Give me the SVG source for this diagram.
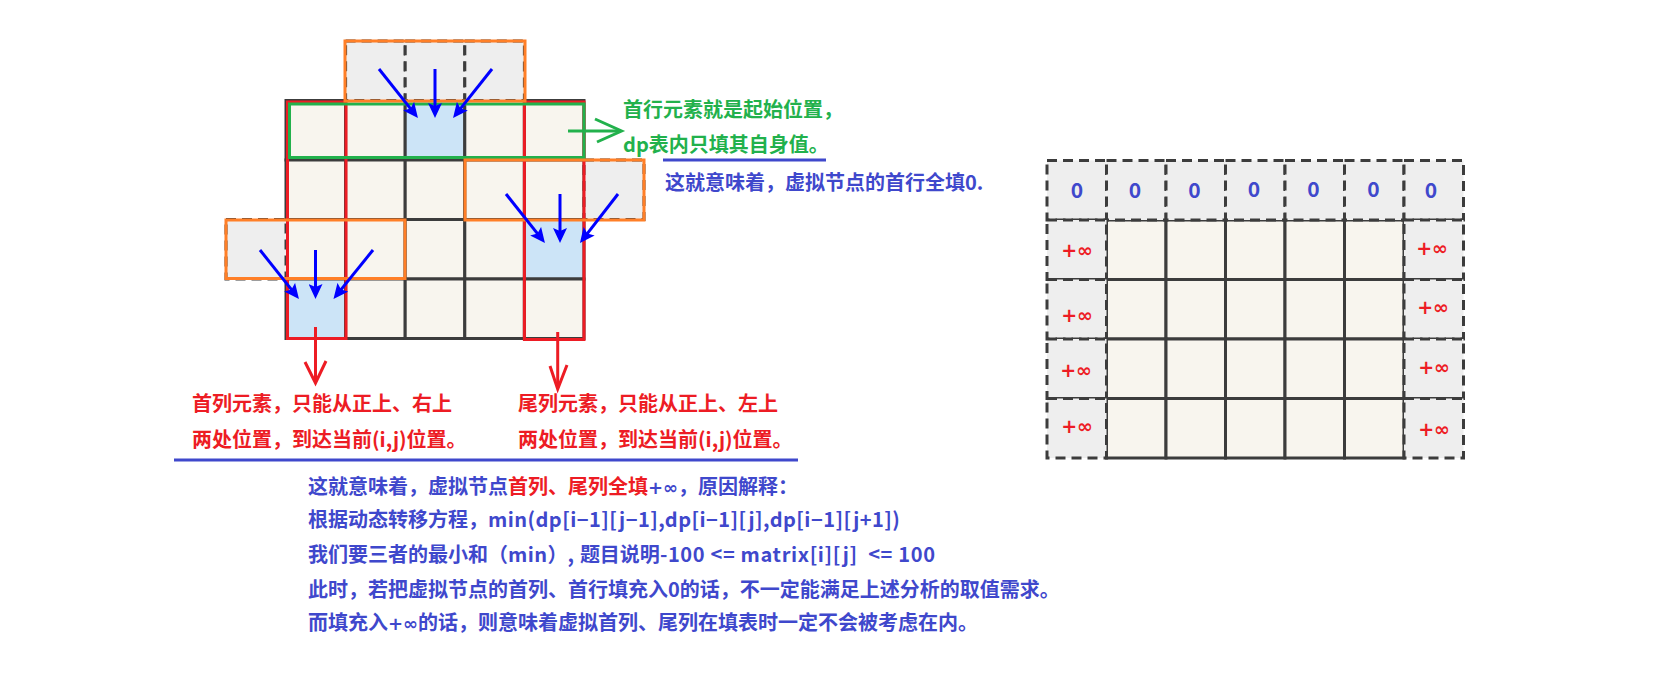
<svg xmlns="http://www.w3.org/2000/svg" width="1667" height="676" viewBox="0 0 1667 676">
<defs>
<style>
.cell{fill:#f8f5ee;stroke:#3c3c3c;stroke-width:3}
.hl{fill:#cce4f7;stroke:#3c3c3c;stroke-width:3}
.virt{fill:#eeeeee;stroke:#3c3c3c;stroke-width:3;stroke-dasharray:10 6}
.orange{fill:none;stroke:#ff7f27;stroke-width:3}
.redbox{fill:none;stroke:#ed1c24;stroke-width:3}
.greenbox{fill:none;stroke:#22b14c;stroke-width:3}
.barrow{stroke:#0000ff;stroke-width:3;fill:none;marker-end:url(#bh)}
.rline{stroke:#ed1c24;stroke-width:3;fill:none}
.gline{stroke:#22b14c;stroke-width:3;fill:none}
.uline{stroke:#3f48cc;stroke-width:3}
.t{font-family:"Noto Sans CJK SC","Microsoft YaHei",sans-serif;font-weight:bold;font-size:20px}
.blue{fill:#3f48cc}
.red{fill:#ed1c24}
.green{fill:#22b14c}
.sym{font-family:"DejaVu Sans",sans-serif;font-weight:bold;font-size:18px}
.lat{letter-spacing:0.45px}
.zero{font-family:"Noto Sans CJK SC",sans-serif;font-weight:bold;font-size:21px;fill:#3f48cc;text-anchor:middle}
.inf{font-family:"DejaVu Sans",sans-serif;font-weight:bold;font-size:19px;fill:#ed1c24;text-anchor:middle}
</style>
<marker id="bh" markerUnits="userSpaceOnUse" markerWidth="16" markerHeight="14" refX="4" refY="7" orient="auto">
<path d="M0,0 L15,7 L0,14 L3,7 z" fill="#0000ff"/>
</marker>
</defs>

<g id="left-grid">
<rect class="cell" x="286" y="100.5" width="59.6" height="59.5"/>
<rect class="cell" x="345.6" y="100.5" width="59.6" height="59.5"/>
<rect class="hl" x="405.2" y="100.5" width="59.6" height="59.5"/>
<rect class="cell" x="464.8" y="100.5" width="59.6" height="59.5"/>
<rect class="cell" x="524.4" y="100.5" width="59.6" height="59.5"/>
<rect class="cell" x="286" y="160" width="59.6" height="59.5"/>
<rect class="cell" x="345.6" y="160" width="59.6" height="59.5"/>
<rect class="cell" x="405.2" y="160" width="59.6" height="59.5"/>
<rect class="cell" x="464.8" y="160" width="59.6" height="59.5"/>
<rect class="cell" x="524.4" y="160" width="59.6" height="59.5"/>
<rect class="cell" x="286" y="219.5" width="59.6" height="59.5"/>
<rect class="cell" x="345.6" y="219.5" width="59.6" height="59.5"/>
<rect class="cell" x="405.2" y="219.5" width="59.6" height="59.5"/>
<rect class="cell" x="464.8" y="219.5" width="59.6" height="59.5"/>
<rect class="hl" x="524.4" y="219.5" width="59.6" height="59.5"/>
<rect class="hl" x="286" y="279" width="59.6" height="59.5"/>
<rect class="cell" x="345.6" y="279" width="59.6" height="59.5"/>
<rect class="cell" x="405.2" y="279" width="59.6" height="59.5"/>
<rect class="cell" x="464.8" y="279" width="59.6" height="59.5"/>
<rect class="cell" x="524.4" y="279" width="59.6" height="59.5"/>
</g>

<g id="left-virtual">
<rect class="virt" x="345.6" y="41" width="59.6" height="59.5"/>
<rect class="virt" x="405.2" y="41" width="59.6" height="59.5"/>
<rect class="virt" x="464.8" y="41" width="59.6" height="59.5"/>
<rect class="virt" x="584" y="160" width="60" height="59.5"/>
<rect class="virt" x="226" y="219.5" width="60" height="59.5"/>
</g>

<g id="frames">
<rect class="redbox" x="287.5" y="102" width="58.5" height="236.5"/>
<rect class="redbox" x="524.4" y="102" width="59.6" height="237.5"/>
<rect class="greenbox" x="289.5" y="104" width="294.5" height="53.5"/>
<rect class="orange" x="345" y="41" width="180" height="60"/>
<rect class="orange" x="465" y="160" width="179" height="60"/>
<rect class="orange" x="226" y="220" width="179" height="58.5"/>
</g>

<g id="connectors">
<line class="barrow" x1="379" y1="69" x2="411.1" y2="109.4"/>
<line class="barrow" x1="435" y1="69" x2="435" y2="107"/>
<line class="barrow" x1="492" y1="69" x2="459.9" y2="109.4"/>
<line class="barrow" x1="506" y1="194" x2="538.1" y2="234.4"/>
<line class="barrow" x1="560" y1="194" x2="560" y2="232"/>
<line class="barrow" x1="618" y1="194" x2="586.7" y2="234.3"/>
<line class="barrow" x1="260" y1="250" x2="292.1" y2="290.4"/>
<line class="barrow" x1="315.5" y1="250" x2="315.5" y2="288"/>
<line class="barrow" x1="373" y1="250" x2="340.4" y2="290.4"/>
<line class="gline" x1="568" y1="131" x2="621" y2="131"/>
<polyline class="gline" points="595,119 621.5,131 597,142"/>
<line class="rline" x1="315.5" y1="327" x2="315.5" y2="382"/>
<polyline class="rline" points="305,362 315.5,383 326,361"/>
<line class="rline" x1="557.7" y1="332" x2="557.7" y2="388"/>
<polyline class="rline" points="550,366 557.7,389 567,365"/>
</g>

<g id="notes">
<text class="t green" x="623" y="116.5">首行元素就是起始位置，</text>
<text class="t green" x="623" y="151.5">dp表内只填其自身值。</text>
<line class="uline" x1="663" y1="160" x2="826" y2="160"/>
<text class="t blue" x="665" y="190">这就意味着，虚拟节点的首行全填0.</text>
<text class="t red" x="192" y="411">首列元素，只能从正上、右上</text>
<text class="t red" x="192" y="447">两处位置，到达当前(i,j)位置。</text>
<text class="t red" x="518" y="411">尾列元素，只能从正上、左上</text>
<text class="t red" x="518" y="447">两处位置，到达当前(i,j)位置。</text>
<line class="uline" x1="174" y1="460" x2="798" y2="460"/>
<text class="t" x="308" y="494"><tspan class="blue">这就意味着，虚拟节点</tspan><tspan class="red">首列、尾列全填</tspan><tspan class="blue sym">+∞</tspan><tspan class="blue">，原因解释：</tspan></text>
<text class="t blue" x="308" y="527">根据动态转移方程，<tspan class="lat">min(dp[i−1][j−1],dp[i−1][j],dp[i−1][j+1])</tspan></text>
<text class="t blue" x="308" y="562" style="white-space:pre">我们要三者的最小和（<tspan class="lat">min</tspan>）<tspan style="letter-spacing:0.65px">, </tspan>题目说明<tspan style="letter-spacing:0.65px">-100 &lt;= matrix[i][j]  &lt;= 100</tspan></text>
<text class="t blue" x="308" y="597">此时，若把虚拟节点的首列、首行填充入0的话，不一定能满足上述分析的取值需求。</text>
<text class="t blue" x="308" y="630">而填充入<tspan class="sym">+∞</tspan>的话，则意味着虚拟首列、尾列在填表时一定不会被考虑在内。</text>
</g>

<g id="right-grid">
<rect class="cell" x="1106.5" y="220" width="59.5" height="59.5"/>
<rect class="cell" x="1166" y="220" width="59.5" height="59.5"/>
<rect class="cell" x="1225.5" y="220" width="59.5" height="59.5"/>
<rect class="cell" x="1285" y="220" width="59.5" height="59.5"/>
<rect class="cell" x="1344.5" y="220" width="59.5" height="59.5"/>
<rect class="cell" x="1106.5" y="279.5" width="59.5" height="59.5"/>
<rect class="cell" x="1166" y="279.5" width="59.5" height="59.5"/>
<rect class="cell" x="1225.5" y="279.5" width="59.5" height="59.5"/>
<rect class="cell" x="1285" y="279.5" width="59.5" height="59.5"/>
<rect class="cell" x="1344.5" y="279.5" width="59.5" height="59.5"/>
<rect class="cell" x="1106.5" y="339" width="59.5" height="59.5"/>
<rect class="cell" x="1166" y="339" width="59.5" height="59.5"/>
<rect class="cell" x="1225.5" y="339" width="59.5" height="59.5"/>
<rect class="cell" x="1285" y="339" width="59.5" height="59.5"/>
<rect class="cell" x="1344.5" y="339" width="59.5" height="59.5"/>
<rect class="cell" x="1106.5" y="398.5" width="59.5" height="59.5"/>
<rect class="cell" x="1166" y="398.5" width="59.5" height="59.5"/>
<rect class="cell" x="1225.5" y="398.5" width="59.5" height="59.5"/>
<rect class="cell" x="1285" y="398.5" width="59.5" height="59.5"/>
<rect class="cell" x="1344.5" y="398.5" width="59.5" height="59.5"/>
</g>

<g id="right-virtual">
<rect class="virt" x="1047" y="160.5" width="59.5" height="59.5"/>
<rect class="virt" x="1106.5" y="160.5" width="59.5" height="59.5"/>
<rect class="virt" x="1166" y="160.5" width="59.5" height="59.5"/>
<rect class="virt" x="1225.5" y="160.5" width="59.5" height="59.5"/>
<rect class="virt" x="1285" y="160.5" width="59.5" height="59.5"/>
<rect class="virt" x="1344.5" y="160.5" width="59.5" height="59.5"/>
<rect class="virt" x="1404" y="160.5" width="59.5" height="59.5"/>
<rect class="virt" x="1047" y="220" width="59.5" height="59.5"/>
<rect class="virt" x="1047" y="279.5" width="59.5" height="59.5"/>
<rect class="virt" x="1047" y="339" width="59.5" height="59.5"/>
<rect class="virt" x="1047" y="398.5" width="59.5" height="59.5"/>
<rect class="virt" x="1404" y="220" width="59.5" height="59.5"/>
<rect class="virt" x="1404" y="279.5" width="59.5" height="59.5"/>
<rect class="virt" x="1404" y="339" width="59.5" height="59.5"/>
<rect class="virt" x="1404" y="398.5" width="59.5" height="59.5"/>
<text class="zero" x="1077" y="198">0</text>
<text class="zero" x="1135" y="198">0</text>
<text class="zero" x="1194.5" y="198">0</text>
<text class="zero" x="1254" y="197">0</text>
<text class="zero" x="1313.5" y="197">0</text>
<text class="zero" x="1373.5" y="197">0</text>
<text class="zero" x="1431" y="198">0</text>
<text class="inf" x="1077" y="257">+∞</text>
<text class="inf" x="1077" y="322">+∞</text>
<text class="inf" x="1076" y="377">+∞</text>
<text class="inf" x="1077" y="433">+∞</text>
<text class="inf" x="1432" y="255">+∞</text>
<text class="inf" x="1433" y="314">+∞</text>
<text class="inf" x="1434" y="374">+∞</text>
<text class="inf" x="1434" y="436">+∞</text>
</g>
</svg>
